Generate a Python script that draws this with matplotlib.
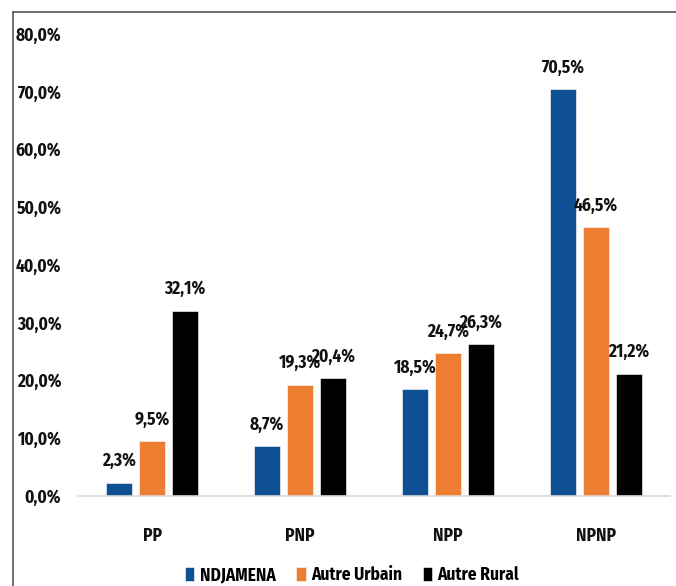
import matplotlib
matplotlib.use('Agg')
import matplotlib.pyplot as plt
from matplotlib.lines import Line2D
import numpy as np

categories = ['PP', 'PNP', 'NPP', 'NPNP']
series_names = ['NDJAMENA', 'Autre Urbain', 'Autre Rural']
ndjamena = [2.3, 8.7, 18.5, 70.5]
autre_urbain = [9.5, 19.3, 24.7, 46.5]
autre_rural = [32.1, 20.4, 26.3, 21.2]
y_ticks = [0, 10, 20, 30, 40, 50, 60, 70, 80]

colors = ['#0E5093', '#ED7D31', '#000000']

plt.rcParams['font.family'] = ['Fira Sans Condensed', 'Carlito', 'DejaVu Sans']
plt.rcParams['font.weight'] = 'bold'
FS = 12.5

fig = plt.figure(figsize=(6.76, 5.86), dpi=100)
ax = fig.add_axes([78 / 676, 1 - 496 / 586, 592 / 676, 462 / 586])

x = np.arange(len(categories))
width = 0.176
step = 0.223
for i, (vals, name, c) in enumerate(zip([ndjamena, autre_urbain, autre_rural], series_names, colors)):
    pos = x + (i - 1) * step
    bars = ax.bar(pos, vals, width, color=c, label=name, edgecolor='white', linewidth=0.4)
    for b, v in zip(bars, vals):
        ax.annotate(f'{v:.1f}%'.replace('.', ','), (b.get_x() + b.get_width() / 2, v),
                    xytext=(0, 9), textcoords='offset points', ha='center', va='bottom',
                    fontsize=FS, fontweight='bold', color='#111111')

ax.set_xlim(-0.5, len(categories) - 0.5)
ax.set_ylim(0, 80)
ax.set_yticks(y_ticks)
ax.set_yticklabels([f'{t:.1f}%'.replace('.', ',') for t in y_ticks], fontsize=FS, fontweight='bold')
ax.set_xticks(x)
ax.set_xticklabels(categories, fontsize=FS, fontweight='bold')
ax.tick_params(length=0, colors='#111111')
ax.tick_params(axis='x', pad=22)
ax.tick_params(axis='y', pad=12)
for s in ['top', 'right', 'left']:
    ax.spines[s].set_visible(False)
ax.spines['bottom'].set_color('#D9D9D9')
ax.spines['bottom'].set_linewidth(1.2)

leg = fig.legend(loc='center', bbox_to_anchor=(352 / 676, 1 - 575 / 586), ncol=3, frameon=False,
                 fontsize=FS, handlelength=0.55, handleheight=0.9, handletextpad=0.3, columnspacing=1.2)
for t in leg.get_texts():
    t.set_fontweight('bold')

# outer frame (top and left edges only visible)
fig.add_artist(Line2D([13 / 676, 13 / 676], [0, 1 - 12 / 586], transform=fig.transFigure, color='#555555', lw=1.2))
fig.add_artist(Line2D([13 / 676, 1], [1 - 12 / 586, 1 - 12 / 586], transform=fig.transFigure, color='#555555', lw=1.2))

fig.savefig('out.png', dpi=100)
